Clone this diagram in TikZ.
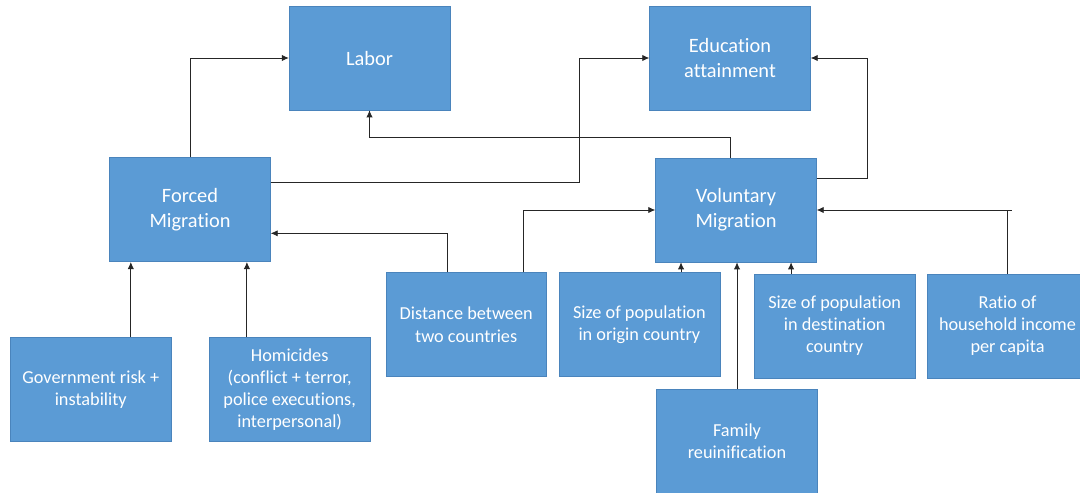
\documentclass[tikz,border=0pt]{standalone}
\usepackage{fontspec}
\setmainfont{Carlito}[Ligatures=NoCommon]
\usetikzlibrary{arrows.meta}
\definecolor{boxblue}{HTML}{5B9BD5}
\definecolor{boxline}{HTML}{4A84BC}
\tikzset{
  box/.style={draw=boxline, fill=boxblue, text=white, align=center, inner sep=2pt,
    minimum width=4.02cm, minimum height=2.6cm, font=\fontsize{14.5}{18}\selectfont},
  smallbox/.style={box, font=\fontsize{13}{15.8}\selectfont},
  arr/.style={-{Latex[length=5pt,width=4.5pt]}, draw=black!85, line width=0.6pt}
}
\begin{document}
\begin{tikzpicture}[x=0.025cm, y=-0.025cm]
\useasboundingbox (0,0) rectangle (1080,493);
\clip (0,0) rectangle (1080,493);
\node[box] (labor) at (369.5,58) {Labor};
\node[box] (edu) at (730,58) {Education\\attainment};
\node[box] (forced) at (190,209.7) {Forced\\Migration};
\node[box] (vol) at (736,210) {Voluntary\\Migration};
\node[smallbox] (gov) at (90.8,389.5) {Government risk +\\instability};
\node[smallbox] (hom) at (289.7,389.5) {Homicides\\(conflict + terror,\\police executions,\\interpersonal)};
\node[smallbox] (dist) at (466.2,324.7) {Distance between\\two countries};
\node[smallbox] (orig) at (639.4,324.7) {Size of population\\in origin country};
\node[smallbox] (dest) at (834.7,325.8) {Size of population\\in destination\\country};
\node[smallbox] (ratio) at (1007.5,325.8) {Ratio of\\household income\\per capita};
\node[smallbox] (fam) at (737,441) {Family\\reuinification};
\draw[arr] (forced.north) |- (labor.west);
\draw[arr] ([yshift=0.69cm]forced.east) -- ++(308.3,0) |- (edu.west);
\draw[arr] ([xshift=-0.14cm]vol.north) -- ++(0,-20.3) -| (labor.south);
\draw[arr] ([yshift=0.78cm]vol.east) -- ++(51,0) |- (edu.east);
\draw[arr] ([xshift=1.0cm]gov.north) -- ([xshift=1.0cm]gov.north |- forced.south);
\draw[arr] ([xshift=-1.07cm]hom.north) -- ([xshift=-1.07cm]hom.north |- forced.south);
\draw[arr] ([xshift=-0.46cm]dist.north) |- ([yshift=-0.59cm]forced.east);
\draw[arr] ([xshift=1.43cm]dist.north) |- (vol.west);
\draw[arr] ([xshift=1.04cm]orig.north) -- ([xshift=1.04cm]orig.north |- vol.south);
\draw[arr] (fam.north) -- (fam.north |- vol.south);
\draw[arr] ([xshift=-1.09cm]dest.north) -- ([xshift=-1.09cm]dest.north |- vol.south);
\draw[arr] (ratio.north) |- (vol.east);
\draw[draw=black!85, line width=0.6pt] (ratio.north |- vol.east) -- ++(4,0);
\end{tikzpicture}
\end{document}
